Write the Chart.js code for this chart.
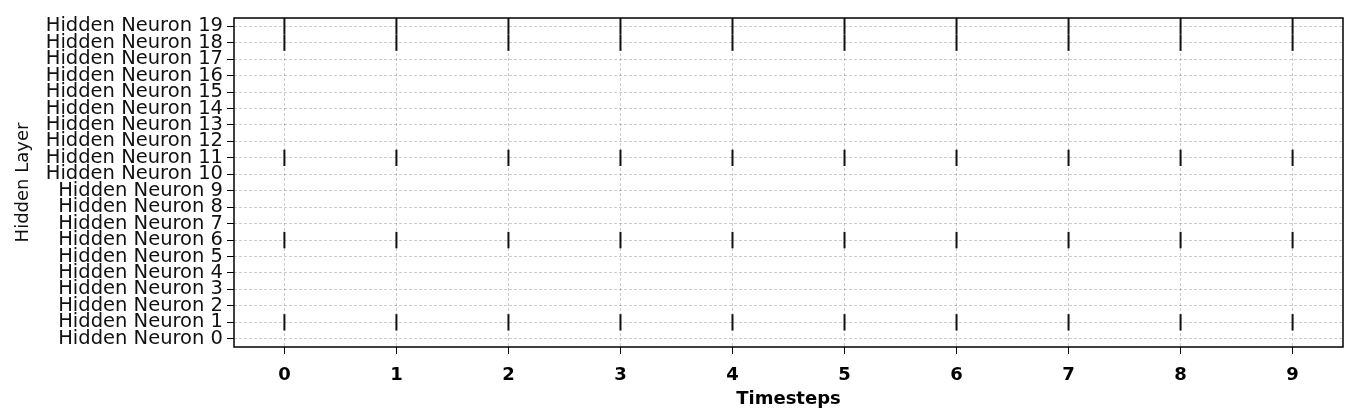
<!DOCTYPE html>
<html>
<head>
<meta charset="utf-8">
<script src="https://cdn.jsdelivr.net/npm/chart.js@4"></script>
<style>
  html, body { margin: 0; padding: 0; background: #fff; }
  #wrap { width: 1356px; height: 413px; }
</style>
</head>
<body>
<div id="wrap"><canvas id="raster" width="1356" height="413"></canvas></div>
<script>
// raster of hidden layer spikes
const timesteps = [0, 1, 2, 3, 4, 5, 6, 7, 8, 9];
const neurons = [0, 1, 2, 3, 4, 5, 6, 7, 8, 9, 10, 11, 12, 13, 14, 15, 16, 17, 18, 19];
const neuronLabels = neurons.map((n) => 'Hidden Neuron ' + n);
const spikingNeurons = [1, 6, 11, 18, 19];

const spikes = [];
spikingNeurons.forEach((n) => {
  timesteps.forEach((t) => spikes.push({ x: t, y: n }));
});

Chart.defaults.font.family = "'DejaVu Sans', sans-serif";
Chart.defaults.color = '#111';

const frame = {
  id: 'frame',
  afterDatasetsDraw(chart) {
    const { ctx, chartArea: a } = chart;
    ctx.save();
    ctx.strokeStyle = '#000';
    ctx.lineWidth = 1.5;
    ctx.strokeRect(a.left, a.top, a.right - a.left, a.bottom - a.top);
    ctx.restore();
  }
};

const gridOpts = {
  color: 'rgba(0,0,0,0.2)',
  lineWidth: 1,
  tickColor: '#000',
  tickBorderDash: [],
  tickLength: 7,
  tickWidth: 1,
};

const ctx = document.getElementById('raster').getContext('2d');
new Chart(ctx, {
  type: 'scatter',
  data: {
    datasets: [
      {
        label: 'Spikes',
        data: spikes,
        pointStyle: 'line',
        rotation: 90,
        radius: 8.2,
        hoverRadius: 8.2,
        borderWidth: 2,
        borderColor: '#111',
        backgroundColor: '#111',
      },
    ],
  },
  options: {
    responsive: false,
    animation: false,
    events: [],
    layout: { padding: { top: 18, right: 13, left: 0, bottom: 0 } },
    plugins: { legend: { display: false }, tooltip: { enabled: false } },
    scales: {
      x: {
        type: 'linear',
        min: -0.45,
        max: 9.45,
        afterBuildTicks: (s) => { s.ticks = timesteps.map((v) => ({ value: v })); },
        afterFit: (s) => { s.height = 66; },
        ticks: {
          autoSkip: false,
          maxRotation: 0,
          padding: 11,
          color: '#000',
          font: { size: 18, weight: 'bold' },
        },
        grid: gridOpts,
        border: { display: false, dash: [3, 2] },
        title: {
          display: true,
          text: 'Timesteps',
          color: '#000',
          font: { size: 18, weight: 'bold' },
          padding: { top: 0, bottom: 3 },
        },
      },
      y: {
        type: 'linear',
        min: -0.5,
        max: 19.5,
        afterBuildTicks: (s) => { s.ticks = neurons.map((v) => ({ value: v })); },
        afterFit: (s) => { s.width = 234; },
        ticks: {
          autoSkip: false,
          padding: 4,
          font: { size: 19.5 },
          callback: (v) => neuronLabels[v],
        },
        grid: gridOpts,
        border: { display: false, dash: [3, 2] },
        title: {
          display: true,
          text: 'Hidden Layer',
          font: { size: 18 },
          padding: { top: 13, bottom: 0 },
        },
      },
    },
  },
  plugins: [frame],
});
</script>
</body>
</html>
